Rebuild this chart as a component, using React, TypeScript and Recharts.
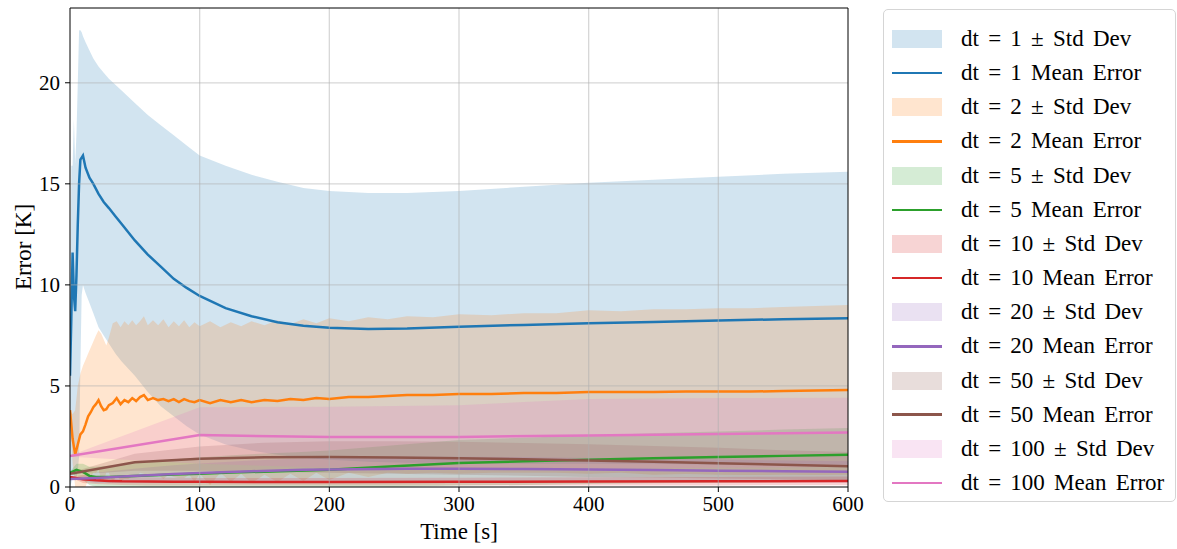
import React from "react";
import { ComposedChart, Area, Line, XAxis, YAxis, ReferenceLine } from "recharts";

// dt = 1
const t1 = [0, 1, 2, 3, 4, 5, 6, 7, 8, 9, 10, 12, 15, 18, 22, 26, 30, 35, 40, 50, 60, 70, 80, 90, 100, 120, 140, 160, 180, 200, 230, 260, 300, 350, 400, 450, 500, 550, 600];
const mean1 = [5.5, 8.3, 11.6, 9.5, 8.7, 10.5, 13.0, 15.0, 16.2, 16.3, 16.4, 15.8, 15.3, 15.0, 14.5, 14.1, 13.8, 13.4, 13.0, 12.2, 11.5, 10.9, 10.3, 9.85, 9.45, 8.85, 8.45, 8.15, 7.98, 7.88, 7.82, 7.84, 7.93, 8.02, 8.1, 8.17, 8.24, 8.3, 8.35];
const high1 = [6, 15.9, 15.9, 18.2, 16, 17.5, 20.0, 22.6, 22.6, 22.5, 22.3, 22.0, 21.6, 21.2, 20.8, 20.5, 20.2, 19.9, 19.6, 19.0, 18.4, 17.9, 17.4, 16.9, 16.4, 15.9, 15.45, 15.1, 14.8, 14.65, 14.55, 14.55, 14.65, 14.85, 15.05, 15.2, 15.35, 15.5, 15.6];
const low1 = [0, 0.2, 0.5, 0.5, 0.3, 0.5, 0.8, 1.5, 6.0, 9.5, 10.0, 9.6, 9.1, 8.6, 7.9, 7.5, 7.1, 6.6, 6.2, 5.5, 4.7, 4.0, 3.5, 3.0, 2.6, 2.1, 1.8, 1.6, 1.45, 1.35, 1.25, 1.2, 1.2, 1.15, 1.15, 1.15, 1.1, 1.1, 1.1];

// dt = 2
const t2 = [0, 2, 4, 6, 8, 10, 12, 14, 16, 18, 20, 22, 24, 26, 28, 30, 33, 36, 39, 42, 45, 48, 51, 54, 57, 60, 64, 68, 72, 76, 80, 84, 88, 92, 96, 100, 108, 116, 124, 132, 140, 150, 160, 170, 180, 190, 200, 215, 230, 245, 260, 280, 300, 325, 350, 375, 400, 425, 450, 475, 500, 525, 550, 575, 600];
const mean2 = [3.8, 2.4, 1.6, 2.1, 2.6, 2.75, 3.1, 3.5, 3.7, 3.95, 4.1, 4.3, 4.0, 3.8, 3.85, 4.05, 4.15, 4.4, 4.1, 4.3, 4.2, 4.4, 4.25, 4.45, 4.55, 4.3, 4.4, 4.3, 4.35, 4.25, 4.35, 4.2, 4.35, 4.25, 4.2, 4.3, 4.15, 4.3, 4.2, 4.3, 4.2, 4.3, 4.25, 4.35, 4.3, 4.4, 4.35, 4.45, 4.45, 4.5, 4.55, 4.55, 4.6, 4.6, 4.65, 4.65, 4.7, 4.7, 4.7, 4.72, 4.73, 4.72, 4.75, 4.77, 4.8];
const high2 = [3.8, 3.6, 3.8, 5.0, 5.6, 6.0, 6.3, 6.6, 6.9, 7.2, 7.5, 7.75, 7.6, 7.3, 7.0, 7.4, 8.1, 8.2, 7.9, 8.2, 8.0, 8.25, 8.0, 8.2, 8.45, 8.0, 8.25, 8.0, 8.3, 7.9, 8.2, 7.95, 8.25, 7.9, 8.15, 7.95, 8.2, 7.9, 8.15, 7.95, 8.2, 8.0, 8.25, 8.05, 8.3, 8.1, 8.35, 8.2, 8.4, 8.3, 8.45, 8.4, 8.55, 8.5, 8.6, 8.6, 8.75, 8.7, 8.8, 8.8, 8.85, 8.85, 8.9, 8.95, 9.0];
const low2 = [3.8, 1.2, 0, 0, 0, 0, 0, 0.4, 0.5, 0.7, 0.7, 0.85, 0.4, 0.3, 0.7, 0.7, 0.2, 0.6, 0.3, 0.4, 0.4, 0.55, 0.5, 0.7, 0.65, 0.6, 0.55, 0.6, 0.4, 0.6, 0.5, 0.45, 0.45, 0.6, 0.25, 0.65, 0.1, 0.7, 0.25, 0.65, 0.2, 0.6, 0.25, 0.65, 0.3, 0.7, 0.35, 0.7, 0.5, 0.7, 0.65, 0.7, 0.65, 0.7, 0.7, 0.7, 0.65, 0.7, 0.6, 0.64, 0.61, 0.59, 0.6, 0.59, 0.6];

// dt = 5
const t5 = [0, 5, 10, 15, 20, 30, 40, 50, 60, 80, 100, 125, 150, 175, 200, 250, 300, 350, 400, 450, 500, 550, 600];
const mean5 = [0.7, 0.85, 0.75, 0.55, 0.5, 0.5, 0.52, 0.55, 0.57, 0.62, 0.66, 0.72, 0.76, 0.8, 0.85, 1.03, 1.19, 1.27, 1.35, 1.42, 1.48, 1.54, 1.6];
const high5 = [0.75, 1.15, 1.15, 1.0, 1.0, 1.05, 1.12, 1.2, 1.27, 1.37, 1.46, 1.57, 1.66, 1.72, 1.8, 2.07, 2.32, 2.44, 2.55, 2.66, 2.75, 2.84, 2.92];
const low5 = [0.65, 0.55, 0.35, 0.1, 0, 0, 0, 0, 0, 0, 0, 0, 0, 0, 0, 0, 0.07, 0.1, 0.15, 0.18, 0.21, 0.24, 0.28];

// dt = 10
const t10 = [0, 10, 20, 30, 40, 60, 80, 100, 150, 200, 300, 400, 500, 600];
const mean10 = [0.5, 0.38, 0.33, 0.3, 0.28, 0.27, 0.26, 0.26, 0.25, 0.25, 0.26, 0.27, 0.28, 0.3];
const high10 = [0.5, 0.6, 0.55, 0.52, 0.5, 0.48, 0.46, 0.45, 0.44, 0.44, 0.46, 0.48, 0.5, 0.52];
const low10 = [0.5, 0.2, 0.15, 0.12, 0.1, 0.08, 0.08, 0.08, 0.07, 0.07, 0.07, 0.08, 0.08, 0.09];

// dt = 20
const t20 = [0, 20, 40, 60, 80, 100, 140, 180, 220, 260, 300, 350, 400, 450, 500, 550, 600];
const mean20 = [0.4, 0.45, 0.52, 0.58, 0.64, 0.69, 0.78, 0.85, 0.88, 0.9, 0.9, 0.89, 0.87, 0.84, 0.81, 0.78, 0.75];
const high20 = [0.4, 0.7, 0.84, 0.96, 1.08, 1.16, 1.31, 1.42, 1.46, 1.5, 1.5, 1.48, 1.44, 1.4, 1.36, 1.31, 1.28];
const low20 = [0.4, 0.2, 0.2, 0.2, 0.2, 0.22, 0.25, 0.28, 0.3, 0.3, 0.3, 0.3, 0.3, 0.28, 0.26, 0.25, 0.22];

// dt = 50
const t50 = [0, 50, 100, 150, 200, 250, 300, 350, 400, 450, 500, 550, 600];
const mean50 = [0.65, 1.22, 1.4, 1.47, 1.48, 1.46, 1.42, 1.37, 1.31, 1.25, 1.18, 1.1, 1.03];
const high50 = [0.7, 1.64, 2.0, 2.19, 2.26, 2.26, 2.24, 2.18, 2.12, 2.03, 1.94, 1.82, 1.73];
const low50 = [0.6, 0.8, 0.8, 0.75, 0.7, 0.66, 0.6, 0.56, 0.5, 0.47, 0.42, 0.38, 0.33];

// dt = 100
const t100 = [0, 100, 200, 300, 400, 500, 600];
const mean100 = [1.53, 2.57, 2.47, 2.48, 2.55, 2.62, 2.7];
const high100 = [1.56, 3.95, 3.97, 4.05, 4.35, 4.4, 4.42];
const low100 = [1.5, 1.15, 0.95, 0.9, 0.9, 0.95, 1.0];

const xTicks = [0, 100, 200, 300, 400, 500, 600];
const yTicks = [0, 5, 10, 15, 20];

const series = [
  { dt: 1, color: "#1f77b4", t: t1, mean: mean1, low: low1, high: high1 },
  { dt: 2, color: "#ff7f0e", t: t2, mean: mean2, low: low2, high: high2 },
  { dt: 5, color: "#2ca02c", t: t5, mean: mean5, low: low5, high: high5 },
  { dt: 10, color: "#d62728", t: t10, mean: mean10, low: low10, high: high10 },
  { dt: 20, color: "#9467bd", t: t20, mean: mean20, low: low20, high: high20 },
  { dt: 50, color: "#8c564b", t: t50, mean: mean50, low: low50, high: high50 },
  { dt: 100, color: "#e377c2", t: t100, mean: mean100, low: low100, high: high100 },
];

const FONT = "'Liberation Serif', 'Times New Roman', serif";

const Legend = () => {
  const rows = series.flatMap(s => [
    { key: `b${s.dt}`, kind: "band", color: s.color, text: `dt = ${s.dt} ± Std Dev` },
    { key: `l${s.dt}`, kind: "line", color: s.color, text: `dt = ${s.dt} Mean Error` },
  ]);
  return (
    <div style={{ position: "absolute", left: 883, top: 9, width: 293, height: 493, border: "1px solid #d5d5d5", borderRadius: 5, boxSizing: "border-box", background: "#fff" }}>
      {rows.map((r, i) => {
        const cy = 29 + i * 34.15;
        return (
          <div key={r.key}>
            {r.kind === "band" ? (
              <div style={{ position: "absolute", left: 8, top: cy - 9, width: 50, height: 18, background: r.color, opacity: 0.2 }} />
            ) : (
              <div style={{ position: "absolute", left: 8, top: cy - 1.25, width: 50, height: 2.5, background: r.color }} />
            )}
            <span style={{ position: "absolute", left: 77, top: cy - 14, lineHeight: "28px", fontSize: 23, wordSpacing: 3.5, whiteSpace: "nowrap", color: "#000" }}>{r.text}</span>
          </div>
        );
      })}
    </div>
  );
};

export default function App() {
  return (
    <div style={{ position: "absolute", left: 0, top: 0, width: 1177, height: 549, background: "#fff", fontFamily: FONT }}>
      <ComposedChart width={1177} height={549} margin={{ top: 8, right: 329, bottom: 12, left: 8 }}>
        <XAxis
          dataKey="t"
          type="number"
          domain={[0, 600]}
          ticks={xTicks}
          allowDataOverflow
          height={50}
          tickSize={5}
          tickMargin={4}
          tick={{ fill: "#000", fontSize: 21 }}
          stroke="#000"
          label={{ value: "Time [s]", position: "insideBottom", offset: -2, fill: "#000", fontSize: 23 }}
        />
        <YAxis
          type="number"
          domain={[0, 23.7]}
          ticks={yTicks}
          allowDataOverflow
          width={62}
          tickSize={5}
          tickMargin={5}
          tick={{ fill: "#000", fontSize: 21 }}
          stroke="#000"
        />
        {series.flatMap(s => {
          const rows = s.t.map((x, i) => ({ t: x, mean: s.mean[i], band: [s.low[i], s.high[i]] }));
          return [
            <Area key={`a${s.dt}`} data={rows} dataKey="band" type="linear" fill={s.color} fillOpacity={0.2} stroke="none" isAnimationActive={false} />,
            <Line key={`l${s.dt}`} data={rows} dataKey="mean" type="linear" stroke={s.color} strokeWidth={2.5} dot={false} isAnimationActive={false} />,
          ];
        })}
        {xTicks.slice(1, -1).map(x => (
          <ReferenceLine key={`gx${x}`} x={x} stroke="#b0b0b0" strokeOpacity={0.5} strokeWidth={1.3} />
        ))}
        {yTicks.slice(1).map(y => (
          <ReferenceLine key={`gy${y}`} y={y} stroke="#b0b0b0" strokeOpacity={0.5} strokeWidth={1.3} />
        ))}
        <ReferenceLine x={600} stroke="#000" strokeWidth={1} />
        <ReferenceLine y={23.7} stroke="#000" strokeWidth={1} />
      </ComposedChart>
      <div style={{ position: "absolute", left: 24, top: 247, transform: "translate(-50%, -50%) rotate(-90deg)", fontSize: 23, whiteSpace: "nowrap", color: "#000" }}>Error [K]</div>
      <Legend />
    </div>
  );
}
